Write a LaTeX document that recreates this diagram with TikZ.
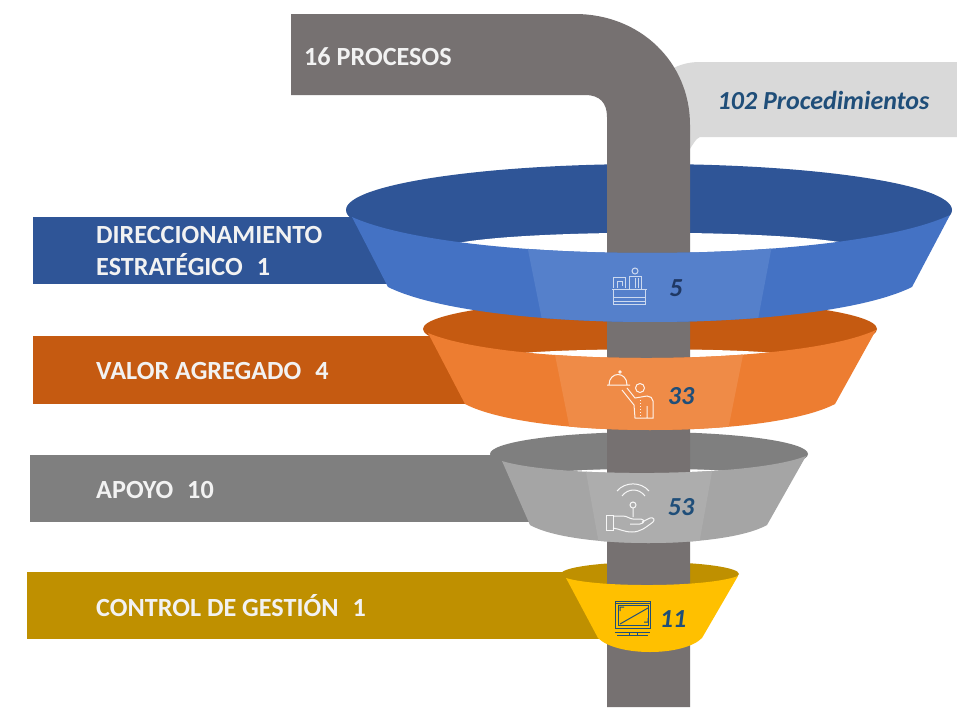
\documentclass[tikz,border=0pt]{standalone}
\usepackage{fontspec}
\setmainfont{Carlito}
\definecolor{pipe}{HTML}{767171}
\definecolor{lightbox}{HTML}{D9D9D9}
\definecolor{blueD}{HTML}{2F5597}
\definecolor{blueF}{HTML}{4472C4}
\definecolor{blueP}{HTML}{5580CB}
\definecolor{oranD}{HTML}{C55A11}
\definecolor{oranF}{HTML}{ED7D31}
\definecolor{oranP}{HTML}{EF8B47}
\definecolor{grayD}{HTML}{7F7F7F}
\definecolor{grayF}{HTML}{A5A5A5}
\definecolor{grayP}{HTML}{ADADAD}
\definecolor{goldD}{HTML}{BF9000}
\definecolor{goldF}{HTML}{FFC000}
\definecolor{numblue}{HTML}{1F4E79}
\definecolor{numdark}{HTML}{1F3864}
\newcommand{\gapp}{\hspace{14pt}}
\tikzset{
  x=1pt,y=-1pt,
  barlabel/.style={anchor=west,inner sep=0pt,text=white!95!black,font=\fontsize{26.2}{32}\selectfont\bfseries,align=left},
  numlabel/.style={inner sep=0pt,text=numblue,font=\fontsize{26}{30}\selectfont\bfseries\itshape},
  icon/.style={draw=white,draw opacity=0.7,line width=1pt,fill=none},
  iconw/.style={draw=white,draw opacity=0.9,line width=1pt,fill=none},
  icond/.style={draw=numblue,line width=1pt,fill=none},
}
% #1,#2 top-left; #3 top middle y; #4,#5 top-right; #6 bottom-left x; #7 bottom middle y; #8 bottom corner y; #9 bottom-right x
\newcommand{\bandpath}[9]{%
  (#1,#2) .. controls ({#1+0.18*(#4-#1)},{(#2+#5)/2+(#3-(#2+#5)/2)*1.333}) and ({#1+0.82*(#4-#1)},{(#2+#5)/2+(#3-(#2+#5)/2)*1.333}) .. (#4,#5) --
  (#9,#8) .. controls ({#6+0.82*(#9-#6)},{#8+(#7-#8)*1.333}) and ({#6+0.18*(#9-#6)},{#8+(#7-#8)*1.333}) .. (#6,#8) -- cycle}
\begin{document}
\begin{tikzpicture}
\useasboundingbox (0,0) rectangle (957,707);
\fill[white] (0,0) rectangle (957,707);
% light box
\fill[lightbox] (670,70) .. controls (680,64) and (690,62) .. (700,62) -- (957,62) -- (957,137) -- (700,137) .. controls (696,138) and (692,146) .. (688,152) -- cycle;
\node[inner sep=0pt,text=numblue,font=\fontsize{26}{30}\selectfont\bfseries\itshape] (proc) at (823.5,100) {102 Procedimientos};
% bars
\fill[blueD] (33,217) rectangle (420,284);
\fill[oranD] (33,336) rectangle (500,404);
\fill[grayD] (30,455) rectangle (560,522);
\fill[goldD] (27,572) rectangle (620,639);
% back ellipses
\fill[grayD] (649,454) ellipse [x radius=159,y radius=22];
\fill[white] (570,471) .. controls (610,468) and (690,468) .. (725,471) -- (725,476) -- (570,476) -- cycle;
\fill[goldD] (650,574) ellipse [x radius=89,y radius=12];
\fill[oranD] (650,329) ellipse [x radius=227,y radius=30];
\fill[white] (523,353) .. controls (580,348) and (720,348) .. (775,353) -- (775,362) -- (523,362) -- cycle;
\fill[blueD] (649,210) ellipse [x radius=303,y radius=46];
\fill[white] (453,244) .. controls (520,229) and (780,229) .. (850,244) -- (850,262) -- (453,262) -- cycle;
% pipe
\fill[pipe] (291,14) -- (575,14) .. controls (640,14) and (690,62) .. (690,125) -- (690,707) -- (607,707) -- (607,117) .. controls (607,103) and (600,95) .. (585,95) -- (291,95) -- cycle;
\node[barlabel] (procesos) at (304,57) {16 PROCESOS};
% gold funnel
\def\pa{\bandpath{566}{578}{585}{738}{576}{598}{652}{638}{702}}
\fill[goldF] \pa;
% gray funnel
\def\pb{\bandpath{502}{461}{473}{806}{456}{530}{543}{525}{767}}
\fill[grayF] \pb;
\begin{scope}\clip \pb; \fill[grayP] (583,455) -- (715,455) -- (698,550) -- (600,550) -- cycle; \end{scope}
% orange funnel
\def\pc{\bandpath{428}{333}{358}{876}{330}{465}{430}{404}{835}}
\fill[oranF] \pc;
\begin{scope}\clip \pc; \fill[oranP] (553,345) -- (745,345) -- (727,435) -- (571,435) -- cycle; \end{scope}
% blue funnel
\def\pd{\bandpath{352}{217}{253}{950}{215}{388}{322}{287}{912}}
\fill[blueF] \pd;
\begin{scope}\clip \pd; \fill[blueP] (526,240) -- (773,240) -- (756,330) -- (544,330) -- cycle; \end{scope}
% bar labels
\node[barlabel] (dir) at (96,251) {DIRECCIONAMIENTO\\ESTRATÉGICO\gapp 1};
\node[barlabel] (val) at (96,371) {VALOR AGREGADO\gapp 4};
\node[barlabel] (apo) at (96,490) {APOYO\gapp 10};
\node[barlabel] (con) at (96,606) {CONTROL DE GESTIÓN\gapp 1};
% numbers
\node[numlabel,text=numdark] (n5) at (676,288) {5};
\node[numlabel] (n33) at (681,396) {33};
\node[numlabel] (n53) at (681,507) {53};
\node[numlabel] (n11) at (673,619) {11};
% desk icon
\draw[icon] (612,289) -- (647,289) (613,289) -- (613,304) -- (645,304) -- (645,289) (613,297) -- (645,297) (613,301) -- (645,301);
\draw[icon] (625,288) -- (625,277) -- (613,277) -- (613,288) (617,288) -- (617,281) -- (622,281) -- (622,286);
\draw[icon] (635,271) circle (3);
\draw[icon] (629,289) -- (629,276) -- (641,276) -- (641,289) (635,278) -- (635,288) (638,278) -- (638,288);
% waiter icon
\draw[iconw] (607,385) -- (630,385) (609,385) .. controls (609,371) and (627,371) .. (627,385);
\draw[iconw] (620,372) circle (1.2);
\draw[iconw] (640,388) circle (4.5);
\draw[iconw] (622,390) -- (634,405) -- (635,418) -- (653,418) -- (653,401) .. controls (653,398) and (650,396) .. (647,396) -- (635,398) -- (627,388) (647,406) -- (647,418);
\draw[iconw,dotted] (640,400) -- (640,418);
% wifi hand icon
\draw[iconw] (606,515) rectangle (613,530);
\draw[iconw] (613,516) -- (623,516) .. controls (627,516) and (630,519) .. (633,519) -- (641,519) .. controls (645,520) and (645,523) .. (640,524) -- (630,524)
  (642,522) -- (650,518) .. controls (654,517) and (655,520) .. (653,522) .. controls (645,528) and (640,532) .. (632,532) .. controls (624,532) and (620,529) .. (613,528);
\draw[iconw] (633,505) circle (3) (633,508) -- (633,517);
\draw[iconw] (617,491) .. controls (625,481.5) and (641,481.5) .. (649,491);
\draw[iconw] (622,496) .. controls (628,488) and (639,488) .. (645,496);
% monitor icon
\draw[icond] (615,601) rectangle (650,628) (615,603.5) -- (650,603.5) (618,605) rectangle (648,625) (615,632) -- (650,632);
\draw[icond] (620,624) -- (648,608) (620,611) -- (620,607) -- (624,607) (648,618) -- (648,622) -- (644,622);
\draw[icond] (629,632) -- (629,635) (637,632) -- (637,635) (617,635.5) -- (648,635.5);
\end{tikzpicture}
\end{document}
